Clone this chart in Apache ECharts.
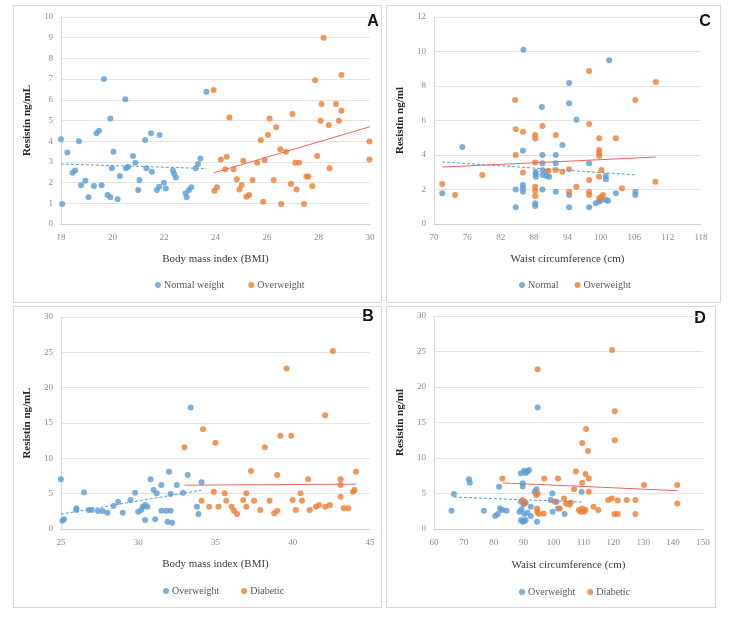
<!DOCTYPE html>
<html>
<head>
<meta charset="utf-8">
<script src="https://cdn.jsdelivr.net/npm/echarts@6/dist/echarts.min.js"></script>
<style>
    body { margin: 0; background: #fff; }
    .panel { position: absolute; border: 1px solid #D9D9D9; box-sizing: border-box; }
</style>
</head>
<body>
<div id="panelA" class="panel" style="left:13px;top:5px;width:369px;height:298px"></div>
<div id="panelC" class="panel" style="left:386px;top:5px;width:335px;height:298px"></div>
<div id="panelB" class="panel" style="left:13px;top:306px;width:369px;height:302px"></div>
<div id="panelD" class="panel" style="left:386px;top:306px;width:330px;height:302px"></div>
<script>
// A: BMI vs resistin
var bmiNormal = [[18.0, 4.1], [18.05, 0.97], [18.25, 3.45], [18.45, 2.48], [18.55, 2.58], [18.7, 4.0], [18.78, 1.87],
    [18.95, 2.09], [19.07, 1.29], [19.28, 1.84], [19.38, 4.38], [19.48, 4.5], [19.58, 1.87], [19.67, 7.0], [19.81, 1.4],
    [19.92, 1.29], [19.92, 5.1], [19.98, 2.69], [20.04, 3.49], [20.2, 1.19], [20.29, 2.32], [20.5, 6.03], [20.52, 2.69],
    [20.61, 2.77], [20.8, 3.28], [20.89, 2.96], [21.0, 1.64], [21.05, 2.13], [21.27, 4.06], [21.32, 2.69], [21.5, 4.38],
    [21.53, 2.53], [21.73, 1.64], [21.82, 1.8], [21.83, 4.3], [22.0, 1.99], [22.07, 1.72], [22.35, 2.58], [22.4, 2.42],
    [22.46, 2.25], [22.84, 1.48], [22.88, 1.29], [22.97, 1.64], [23.06, 1.77], [23.23, 2.69], [23.32, 2.9], [23.42, 3.17],
    [23.65, 6.39]];
var bmiOver = [[23.93, 6.47], [23.96, 1.61], [24.06, 1.77], [24.21, 3.12], [24.44, 3.25], [24.38, 2.64], [24.54, 5.15],
    [24.7, 2.64], [24.83, 2.16], [24.93, 1.67], [25.02, 1.88], [25.08, 3.06], [25.2, 1.32], [25.31, 1.4], [25.44, 2.13],
    [25.62, 2.96], [25.76, 4.06], [25.85, 1.08], [25.91, 3.09], [26.04, 4.3], [26.1, 5.1], [26.26, 2.13], [26.36, 4.67],
    [26.52, 3.61], [26.55, 0.97], [26.74, 3.49], [26.93, 1.93], [26.99, 5.31], [27.1, 2.96], [27.25, 2.96], [27.15, 1.67],
    [27.44, 0.97], [27.53, 2.29], [27.61, 2.29], [27.76, 1.84], [27.87, 6.95], [27.95, 3.28], [28.08, 4.99], [28.12, 5.8],
    [28.2, 9.0], [28.4, 4.78], [28.43, 2.69], [28.68, 5.8], [28.79, 4.99], [28.89, 5.47], [28.89, 7.2], [29.98, 3.98],
    [29.98, 3.12]];
var trendANormal = [[18.0, 2.9], [23.65, 2.68]];
var trendAOver = [[23.93, 2.47], [30.0, 4.7]];

// C: waist vs resistin
var waistNormal = [[71.5, 1.78], [75.1, 4.47], [84.7, 0.97], [84.7, 2.0], [86.0, 4.25], [86.0, 2.26], [86.0, 2.07],
    [86.0, 1.87], [86.1, 10.1], [88.2, 1.2], [88.2, 1.04], [88.3, 3.03], [88.3, 2.9], [88.3, 2.74], [89.4, 6.78],
    [89.5, 4.0], [89.5, 3.52], [89.5, 3.13], [89.5, 2.84], [89.5, 2.0], [90.2, 3.03], [90.2, 2.78], [90.7, 2.74],
    [91.9, 4.0], [91.9, 3.52], [91.9, 1.87], [93.1, 4.58], [94.3, 8.17], [94.3, 7.0], [94.3, 1.68], [94.3, 0.97],
    [95.6, 6.05], [97.9, 3.52], [97.9, 0.97], [99.1, 1.2], [99.7, 1.3], [100.1, 1.39], [100.9, 1.39], [101.3, 1.35],
    [100.9, 2.78], [100.9, 2.59], [101.5, 9.5], [102.7, 1.78], [106.2, 1.87], [106.2, 1.68]];
var waistOver = [[71.5, 2.32], [73.8, 1.68], [78.7, 2.84], [84.6, 7.19], [84.7, 5.49], [84.7, 4.0], [86.0, 5.35],
    [86.0, 2.98], [88.2, 5.16], [88.2, 4.95], [88.2, 3.56], [88.2, 2.16], [88.2, 1.93], [88.2, 1.62], [89.5, 5.68],
    [90.6, 3.09], [91.9, 5.16], [91.9, 3.13], [93.1, 3.03], [94.3, 3.17], [94.3, 1.87], [95.6, 2.16], [97.9, 8.87],
    [97.9, 5.8], [97.9, 2.55], [97.9, 1.87], [97.9, 1.68], [99.7, 4.97], [99.7, 4.29], [99.7, 4.1], [99.7, 3.94],
    [99.7, 2.74], [100.1, 3.13], [99.7, 1.49], [100.1, 1.58], [100.4, 1.68], [102.7, 4.97], [103.8, 2.07],
    [106.2, 7.19], [109.8, 2.45], [109.9, 8.23]];
var trendCNormal = [[71.5, 3.6], [106.2, 2.85]];
var trendCOver = [[71.5, 3.3], [109.9, 3.88]];

// B: BMI vs resistin, overweight / diabetic
var bmiOverB = [[25.0, 7.03], [25.1, 1.18], [25.2, 1.37], [26.0, 2.69], [26.0, 2.92], [26.5, 5.19], [26.8, 2.69],
    [27.0, 2.69], [27.4, 2.55], [27.7, 2.55], [28.0, 2.31], [28.4, 3.25], [28.7, 3.87], [29.0, 2.31], [29.5, 4.1],
    [29.8, 5.14], [30.0, 2.45], [30.2, 2.69], [30.3, 3.16], [30.45, 3.4], [30.6, 3.16], [30.45, 1.27], [31.1, 1.37],
    [30.8, 7.03], [31.0, 5.52], [31.2, 5.05], [31.5, 6.23], [31.5, 2.59], [31.8, 2.59], [32.1, 2.59], [31.9, 1.04],
    [32.2, 0.9], [32.0, 8.11], [32.1, 4.95], [32.5, 6.23], [32.9, 5.14], [33.2, 7.64], [33.4, 17.2], [33.8, 3.16],
    [33.9, 2.12], [34.1, 6.6]];
var bmiDiab = [[33.0, 11.56], [34.2, 14.1], [35.0, 12.2], [34.1, 4.0], [34.6, 3.16], [34.9, 5.28], [35.2, 3.16],
    [35.6, 5.05], [35.7, 4.0], [36.05, 3.16], [36.2, 2.59], [36.4, 2.12], [36.8, 4.1], [37.0, 3.16], [37.0, 5.05],
    [37.3, 8.2], [37.5, 4.0], [37.9, 2.69], [38.2, 11.56], [38.5, 4.0], [38.8, 2.22], [39.0, 2.59], [39.0, 7.64],
    [39.2, 13.2], [39.6, 22.7], [39.9, 13.2], [40.0, 4.1], [40.2, 2.69], [40.5, 5.05], [40.6, 4.0], [41.0, 7.03],
    [41.1, 2.69], [41.5, 3.16], [41.7, 3.4], [42.1, 3.16], [42.1, 16.1], [42.4, 3.4], [42.6, 25.2], [43.1, 7.03],
    [43.1, 6.23], [43.1, 4.58], [43.3, 2.92], [43.6, 2.92], [43.9, 5.28], [44.0, 5.52], [44.1, 8.11]];
var trendBOver = [[25.0, 2.1], [34.1, 5.5]];
var trendBDiab = [[33.0, 6.2], [44.1, 6.35]];

// D: waist vs resistin, overweight / diabetic
var waistOverD = [[65.9, 2.58], [66.7, 4.93], [71.7, 7.0], [72.0, 6.5], [76.7, 2.58], [80.5, 1.83], [81.4, 2.1],
    [81.8, 5.96], [82.1, 2.9], [82.9, 2.68], [84.3, 2.58], [88.6, 2.44], [89.1, 7.84], [89.1, 3.85], [89.1, 1.27],
    [89.3, 2.77], [89.7, 6.43], [89.7, 6.0], [89.7, 1.03], [90.0, 3.5], [90.2, 8.2], [90.2, 2.1], [90.2, 1.13],
    [90.7, 7.9], [90.7, 3.7], [90.7, 1.27], [91.3, 8.1], [91.3, 2.3], [91.8, 8.3], [92.4, 3.15], [92.4, 1.83],
    [93.7, 5.26], [94.3, 5.6], [94.5, 1.03], [94.7, 17.1], [99.1, 4.08], [99.6, 5.0], [99.7, 2.44], [101.0, 3.85],
    [101.5, 2.9], [103.7, 2.1], [109.4, 5.26]];
var waistDiab = [[82.9, 7.1], [89.7, 4.1], [90.2, 3.6], [94.2, 4.8], [94.7, 5.0], [94.5, 2.9], [94.5, 2.44],
    [95.1, 2.1], [96.7, 2.2], [94.7, 22.5], [96.9, 7.1], [100.4, 3.85], [101.5, 7.1], [102.1, 2.9], [103.5, 4.3],
    [104.2, 3.6], [105.3, 3.4], [105.8, 3.75], [106.9, 5.6], [107.5, 8.1], [108.5, 2.68], [109.1, 2.44], [109.6, 2.9],
    [110.2, 2.44], [110.7, 2.68], [109.6, 6.5], [110.7, 7.75], [111.8, 7.1], [111.8, 5.26], [109.6, 12.1],
    [111.5, 11.0], [110.9, 14.1], [113.4, 3.15], [115.0, 2.68], [118.3, 4.08], [119.5, 4.3], [121.5, 4.0],
    [120.4, 2.1], [121.5, 2.1], [119.6, 25.2], [120.5, 16.6], [120.5, 12.5], [124.5, 4.08], [127.4, 4.08],
    [127.4, 2.1], [130.3, 6.2], [141.4, 6.2], [141.4, 3.6]];
var trendDOver = [[66.7, 4.5], [109.4, 3.8]];
var trendDDiab = [[82.9, 6.5], [141.4, 5.4]];

var BLUE = '#5B9BD5';
var ORANGE = '#ED7D31';
var TREND_RED = '#E8685F';
var SERIF = 'Liberation Serif';

function makePanel(id, p) {
    var chart = echarts.init(document.getElementById(id));

    var option = {
        animation: false,
        grid: p.grid,
        legend: {
            data: p.names,
            left: p.legendLeft,
            top: p.legendTop,
            padding: 0,
            icon: 'circle',
            itemWidth: 6,
            itemHeight: 6,
            itemGap: p.legendGap,
            textStyle: { fontFamily: SERIF, fontSize: 10, color: '#595959', padding: [0, 0, 0, -2] }
        },
        xAxis: {
            type: 'value',
            min: p.x[0], max: p.x[1], interval: p.x[2],
            name: p.xName,
            nameLocation: 'middle',
            nameGap: p.xNameGap,
            nameTextStyle: { fontFamily: SERIF, fontSize: 11, color: '#404040' },
            axisLine: { lineStyle: { color: p.xLineColor || '#D0D0D0' } },
            axisTick: { show: false },
            axisLabel: { margin: 9, fontFamily: SERIF, fontSize: 9, color: '#8C8C8C' },
            splitLine: { show: false }
        },
        yAxis: {
            type: 'value',
            min: 0, max: p.y[0], interval: p.y[1],
            name: p.yName,
            nameLocation: 'middle',
            nameGap: 22,
            nameTextStyle: { fontFamily: SERIF, fontSize: 11, fontWeight: 'bold', color: '#262626' },
            axisLine: { show: true, lineStyle: { color: '#D9D9D9' } },
            axisTick: { show: false },
            axisLabel: { margin: 8, fontFamily: SERIF, fontSize: 9, color: '#8C8C8C' },
            splitLine: { lineStyle: { color: '#E3E3E3' } }
        },
        graphic: [{
            type: 'text',
            x: p.letterPos[0],
            y: p.letterPos[1],
            style: {
                text: p.letter,
                font: 'bold 16px "Liberation Sans"',
                fill: '#111',
                align: 'center', verticalAlign: 'middle',
                textAlign: 'center', textVerticalAlign: 'middle'
            }
        }],
        series: [
            { name: p.names[0], type: 'scatter', data: p.data[0], symbolSize: 6, itemStyle: { color: BLUE } },
            { name: p.names[1], type: 'scatter', data: p.data[1], symbolSize: 6, itemStyle: { color: ORANGE } },
            {
                name: 'trend1', type: 'line', data: p.trends[0], symbol: 'none', silent: true,
                lineStyle: { color: BLUE, width: 1, type: [3, 2] }
            },
            {
                name: 'trend2', type: 'line', data: p.trends[1], symbol: 'none', silent: true,
                lineStyle: { color: TREND_RED, width: 1 }
            }
        ]
    };

    chart.setOption(option);
}

makePanel('panelA', {
    grid: { left: 43, top: 11, width: 313, height: 207 },
    x: [18, 30, 2], y: [10, 1],
    xName: 'Body mass index (BMI)', yName: 'Resistin ng/mL', xNameGap: 30,
    names: ['Normal weight', 'Overweight'],
    data: [bmiNormal, bmiOver], trends: [trendANormal, trendAOver],
    legendLeft: 141, legendTop: 274, legendGap: 24,
    letter: 'A', letterPos: [359, 16]
});

makePanel('panelC', {
    grid: { left: 36, top: 11, width: 278, height: 207 },
    x: [70, 118, 6], y: [12, 2],
    xName: 'Waist circumference (cm)', yName: 'Resistin ng/ml', xNameGap: 30,
    names: ['Normal', 'Overweight'],
    data: [waistNormal, waistOver], trends: [trendCNormal, trendCOver],
    legendLeft: 132, legendTop: 274, legendGap: 16,
    letter: 'C', letterPos: [318, 16]
});

makePanel('panelB', {
    grid: { left: 43, top: 10, width: 313, height: 212 },
    x: [25, 45, 5], y: [30, 5],
    xName: 'Body mass index (BMI)', yName: 'Resistin ng/mL', xNameGap: 30,
    names: ['Overweight', 'Diabetic'],
    data: [bmiOverB, bmiDiab], trends: [trendBOver, trendBDiab],
    xLineColor: '#F2C6B8',
    legendLeft: 149, legendTop: 279, legendGap: 22,
    letter: 'B', letterPos: [354, 10]
});

makePanel('panelD', {
    grid: { left: 38, top: 9, width: 278, height: 213 },
    x: [60, 150, 10], y: [30, 5],
    xName: 'Waist circumference (cm)', yName: 'Resistin ng/ml', xNameGap: 31,
    names: ['Overweight', 'Diabetic'],
    data: [waistOverD, waistDiab], trends: [trendDOver, trendDDiab],
    legendLeft: 132, legendTop: 280, legendGap: 12,
    letter: 'D', letterPos: [313, 12]
});
</script>
</body>
</html>
